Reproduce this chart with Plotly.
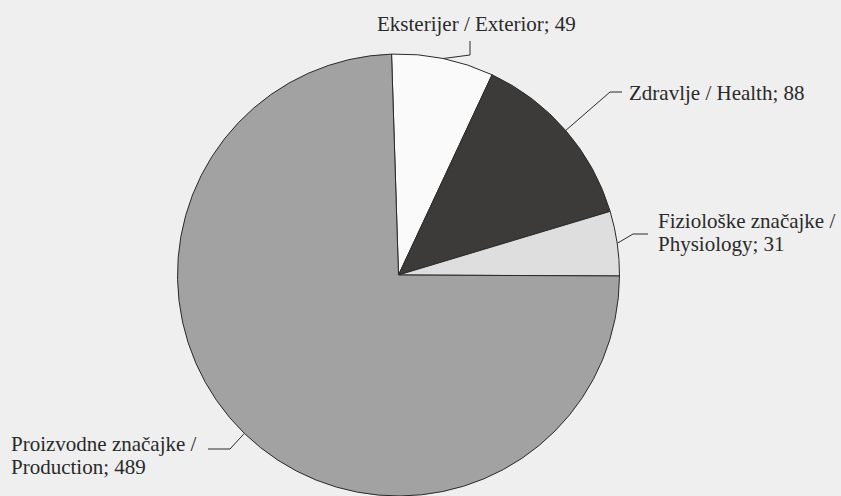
import math
import plotly.graph_objects as go

# ---- data ----
categories_hr = ["Eksterijer", "Zdravlje", "Fiziološke značajke", "Proizvodne značajke"]
categories_en = ["Exterior", "Health", "Physiology", "Production"]
values = [49, 88, 31, 489]
colors = ["#fafafa", "#3d3a3a", "#dedede", "#a2a2a2"]

# ---- layout geometry (pixels) ----
W, H = 841, 496
CX, CY, R = 398.5, 275, 221
ROTATION = -1.8
FONT = "Liberation Serif"
FS = 21
LINE_GAP = 23

def px(x):
    return x / W

def py(y):
    return 1 - y / H

fig = go.Figure(go.Pie(
    labels=[f"{a} / {b}" for a, b in zip(categories_hr, categories_en)],
    values=values,
    sort=False,
    direction="clockwise",
    rotation=ROTATION,
    marker=dict(colors=colors, line=dict(color="#2a2a2a", width=1)),
    textinfo="none",
    hoverinfo="label+value",
    showlegend=False,
    domain=dict(x=[px(CX - R), px(CX + R)], y=[0, py(CY - R)]),
))

# label layout: (elbow, end, text x, first line y, xanchor, wrapped)
label_layout = [
    ((470, 55), (470, 41), 477, 24, "center", False),
    ((610, 92), (622, 92), 627, 93, "left", False),
    ((633, 234), (648, 234), 656, 221, "left", True),
    ((230, 449), (208, 449), 9, 444, "left", True),
]

total = sum(values)
cum = 0
shapes = []
annotations = []
for i, v in enumerate(values):
    mid = ROTATION + (cum + v / 2) / total * 360
    cum += v
    ex = CX + R * math.sin(math.radians(mid))
    ey = CY - R * math.cos(math.radians(mid))
    (bx, by), (qx, qy), tx, ty, xa, wrapped = label_layout[i]
    path = f"M {px(ex)} {py(ey)} L {px(bx)} {py(by)} L {px(qx)} {py(qy)}"
    shapes.append(dict(type="path", xref="paper", yref="paper", path=path,
                       line=dict(color="#2a2a2a", width=1)))
    if wrapped:
        lines = [f"{categories_hr[i]} /", f"{categories_en[i]}; {v}"]
    else:
        lines = [f"{categories_hr[i]} / {categories_en[i]}; {v}"]
    for k, line in enumerate(lines):
        annotations.append(dict(x=px(tx), y=py(ty + k * LINE_GAP), xref="paper", yref="paper",
                                text=line, showarrow=False, xanchor=xa,
                                yanchor="middle", align="left",
                                font=dict(family=FONT, size=FS, color="#2a2a2a")))

fig.update_layout(
    width=W, height=H,
    margin=dict(l=0, r=0, t=0, b=0),
    paper_bgcolor="#efefef",
    plot_bgcolor="#efefef",
    font=dict(family=FONT, size=FS, color="#2a2a2a"),
    shapes=shapes,
    annotations=annotations,
)

fig.write_html("out.html", config={"displayModeBar": False},
               post_script="document.body.style.margin='0';document.body.style.background='#efefef';")
